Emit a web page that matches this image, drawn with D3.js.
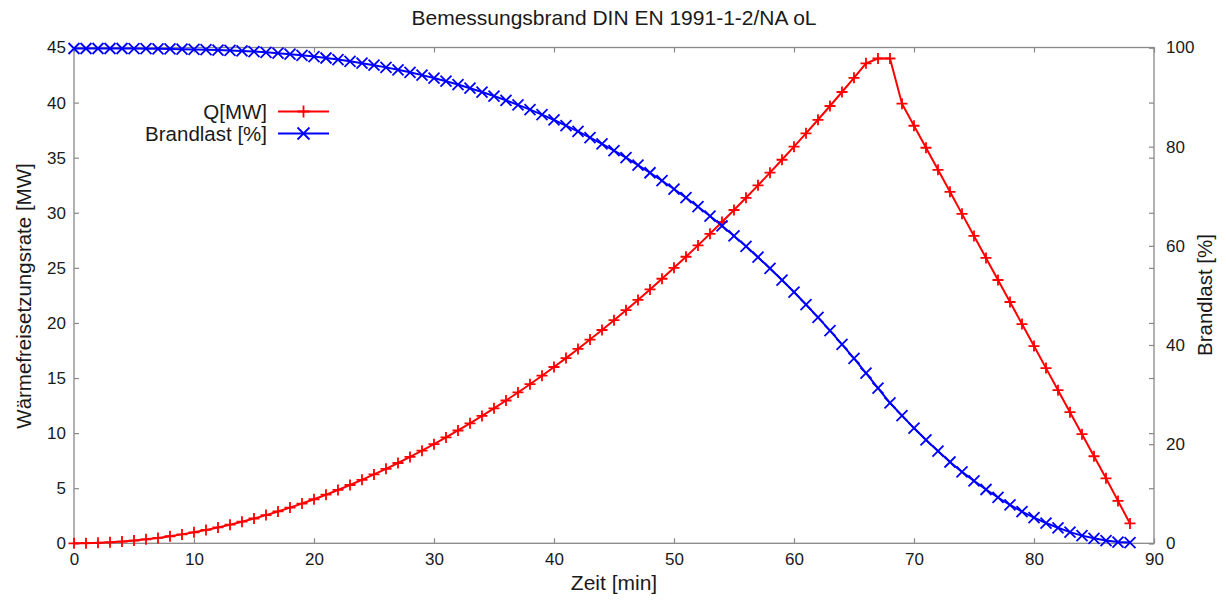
<!DOCTYPE html>
<html>
<head>
<meta charset="utf-8">
<script src="https://cdn.jsdelivr.net/npm/d3@7"></script>
<style>
  html, body { margin: 0; padding: 0; background: #fff; }
  text { font-family: Arial, "Liberation Sans", Helvetica, sans-serif; fill: #1a1a1a; }
</style>
</head>
<body>
<svg id="chart" width="1226" height="601"></svg>
<script>
// ---- data ----
const titleText = "Bemessungsbrand DIN EN 1991-1-2/NA oL";
const xLabel = "Zeit [min]";
const yLabel = "Wärmefreisetzungsrate [MW]";
const y2Label = "Brandlast [%]";
const seriesNames = ["Q[MW]", "Brandlast [%]"];

const timeMin = d3.range(0, 89); // 0..88 min

const qMW = [
  0, 0.01, 0.04, 0.09, 0.16, 0.25, 0.36, 0.49, 0.64, 0.81,
  1.00, 1.21, 1.44, 1.69, 1.96, 2.25, 2.56, 2.89, 3.24, 3.61,
  4.00, 4.41, 4.84, 5.29, 5.76, 6.25, 6.76, 7.29, 7.84, 8.41,
  9.00, 9.61, 10.24, 10.89, 11.56, 12.25, 12.96, 13.69, 14.44, 15.21,
  16.00, 16.81, 17.64, 18.49, 19.36, 20.25, 21.16, 22.09, 23.04, 24.01,
  25.00, 26.01, 27.04, 28.09, 29.16, 30.25, 31.36, 32.49, 33.64, 34.81,
  36.00, 37.21, 38.44, 39.69, 40.96, 42.25, 43.56, 44.0, 44.0, 39.9,
  37.9, 35.9, 33.9, 31.9, 29.9, 27.9, 25.9, 23.9, 21.9, 19.9,
  17.9, 15.9, 13.9, 11.9, 9.9, 7.9, 5.9, 3.85, 1.8
];

const brandlastPct = [
  99.8, 99.8, 99.8, 99.8, 99.8, 99.78, 99.76, 99.73, 99.7, 99.65,
  99.6, 99.55, 99.48, 99.4, 99.3, 99.18, 99.03, 98.86, 98.66, 98.43,
  98.17, 97.88, 97.57, 97.22, 96.84, 96.43, 95.99, 95.50, 94.99, 94.43,
  93.83, 93.20, 92.52, 91.79, 91.02, 90.21, 89.34, 88.43, 87.47, 86.45,
  85.38, 84.26, 83.08, 81.84, 80.54, 79.19, 77.77, 76.29, 74.74, 73.13,
  71.45, 69.70, 67.89, 66.00, 64.04, 62.00, 59.89, 57.70, 55.44, 53.09,
  50.67, 48.16, 45.57, 42.89, 40.13, 37.28, 34.34, 31.31, 28.30, 25.76,
  23.24, 20.85, 18.60, 16.40, 14.40, 12.60, 10.85, 9.24, 7.76, 6.41,
  5.18, 4.09, 3.13, 2.25, 1.55, 1.00, 0.55, 0.25, 0.15
];

const xTicks = d3.range(0, 91, 10);
const yTicks = d3.range(0, 46, 5);
const y2Ticks = d3.range(0, 101, 20);

// ---- layout ----
const svg = d3.select("#chart");
const L = 74, R = 1154, T = 47.5, B = 543.3;
const x = d3.scaleLinear().domain([0, 90]).range([L, R]);
const y = d3.scaleLinear().domain([0, 45]).range([B, T]);
const y2 = d3.scaleLinear().domain([0, 100]).range([B, T]);
const frameColor = "#888888";
const tickLen = 5;

// frame
svg.append("rect").attr("x", L).attr("y", T).attr("width", R - L).attr("height", B - T)
  .attr("fill", "none").attr("stroke", frameColor).attr("stroke-width", 1.3);

// axes via d3 axis generators (inward ticks)
function styleAxis(g) {
  g.select(".domain").remove();
  g.selectAll(".tick line").attr("stroke", frameColor).attr("stroke-width", 1.2);
  g.selectAll(".tick text").style("font-size", "17px").attr("fill", "#1a1a1a");
}
svg.append("g").attr("transform", `translate(0,${B})`)
  .call(d3.axisBottom(x).tickValues(xTicks).tickSizeInner(-tickLen).tickSizeOuter(0).tickPadding(7))
  .call(styleAxis)
  .call(g => g.selectAll(".tick text").attr("dy", "0.85em"));
svg.append("g").attr("transform", `translate(0,${T})`)
  .call(d3.axisTop(x).tickValues(xTicks).tickSizeInner(-tickLen).tickSizeOuter(0).tickFormat(""))
  .call(styleAxis);
svg.append("g").attr("transform", `translate(${L},0)`)
  .call(d3.axisLeft(y).tickValues(yTicks).tickSizeInner(-tickLen).tickSizeOuter(0).tickPadding(8))
  .call(styleAxis);
svg.append("g").attr("transform", `translate(${R},0)`)
  .call(d3.axisRight(y).tickValues(yTicks).tickSizeInner(-tickLen).tickSizeOuter(0).tickFormat(""))
  .call(styleAxis);
svg.append("g").attr("transform", `translate(${R},0)`)
  .call(d3.axisRight(y2).tickValues(y2Ticks).tickSizeInner(-tickLen).tickSizeOuter(0).tickPadding(12))
  .call(styleAxis);

// titles
svg.append("text").attr("x", 614).attr("y", 25).attr("text-anchor", "middle")
  .style("font-size", "21px").text(titleText);
svg.append("text").attr("x", 614).attr("y", 590).attr("text-anchor", "middle")
  .style("font-size", "21px").text(xLabel);
svg.append("text").attr("transform", "translate(31,296) rotate(-90)").attr("text-anchor", "middle")
  .style("font-size", "20.5px").text(yLabel);
svg.append("text").attr("transform", "translate(1212,295) rotate(-90)").attr("text-anchor", "middle")
  .style("font-size", "20.5px").text(y2Label);

// series
const qData = timeMin.map((t, i) => ({ t, v: qMW[i] }));
const bData = timeMin.map((t, i) => ({ t, v: brandlastPct[i] }));
const red = "#ff0000", blue = "#0000ff";

svg.append("path").datum(qData).attr("fill", "none").attr("stroke", red).attr("stroke-width", 2)
  .attr("d", d3.line().x(d => x(d.t)).y(d => y(d.v)));
svg.append("path").datum(bData).attr("fill", "none").attr("stroke", blue).attr("stroke-width", 2)
  .attr("d", d3.line().x(d => x(d.t)).y(d => y2(d.v)));

const plusPath = s => `M${-s},0H${s}M0,${-s}V${s}`;
const crossPath = s => `M${-s},${-s}L${s},${s}M${-s},${s}L${s},${-s}`;

svg.append("g").selectAll("path").data(qData).join("path")
  .attr("transform", d => `translate(${x(d.t)},${y(d.v)})`)
  .attr("d", plusPath(5.5)).attr("stroke", red).attr("stroke-width", 1.8).attr("fill", "none");
svg.append("g").selectAll("path").data(bData).join("path")
  .attr("transform", d => `translate(${x(d.t)},${y2(d.v)})`)
  .attr("d", crossPath(5.5)).attr("stroke", blue).attr("stroke-width", 1.8).attr("fill", "none");

// legend
const legend = [
  { name: seriesNames[0], color: red, marker: plusPath(6), yy: 111.5 },
  { name: seriesNames[1], color: blue, marker: crossPath(6), yy: 133.5 }
];
const lg = svg.append("g");
legend.forEach(e => {
  lg.append("text").attr("x", 267).attr("y", e.yy).attr("dy", "0.36em").attr("text-anchor", "end")
    .style("font-size", "20.5px").text(e.name);
  lg.append("line").attr("x1", 278).attr("x2", 329).attr("y1", e.yy).attr("y2", e.yy)
    .attr("stroke", e.color).attr("stroke-width", 2);
  lg.append("path").attr("transform", `translate(303.5,${e.yy})`).attr("d", e.marker)
    .attr("stroke", e.color).attr("stroke-width", 1.8).attr("fill", "none");
});
</script>
</body>
</html>
